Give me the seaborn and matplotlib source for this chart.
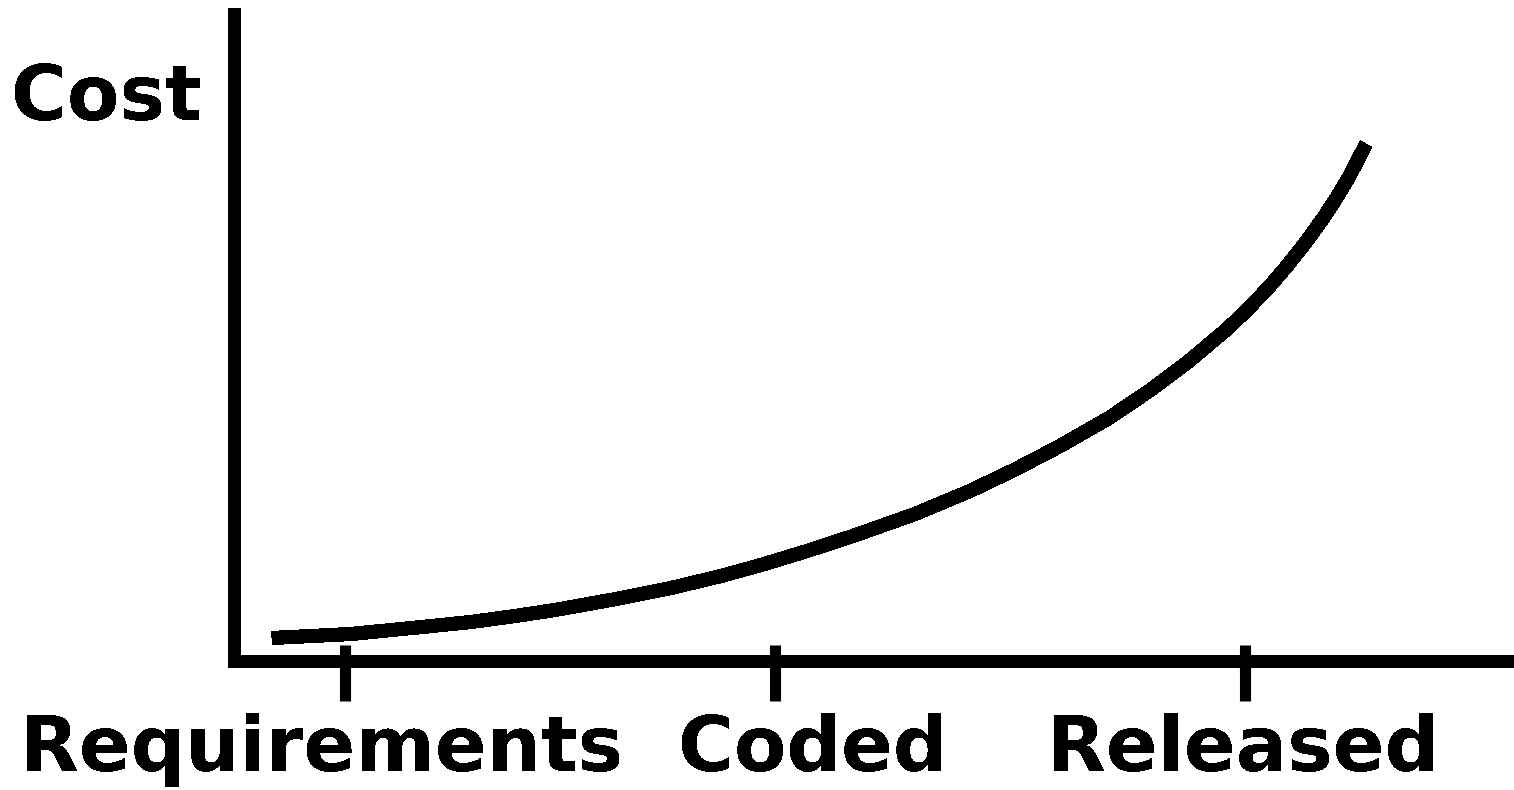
import matplotlib
matplotlib.use("Agg")
import matplotlib.pyplot as plt
from matplotlib.transforms import ScaledTranslation
import pandas as pd
import seaborn as sns

# Project stages marked on the time axis
stage_names = ["Requirements", "Coded", "Released"]
stage_pos = [1.11, 5.41, 10.11]

# Cost of fixing a defect over the project timeline
time = [0.38, 1.17, 1.88, 2.37, 2.81, 3.21, 3.82, 4.37, 4.87, 5.27, 5.73,
        6.19, 6.81, 7.36, 7.82, 8.26, 8.75, 9.18, 9.55, 9.92, 10.13, 10.35,
        10.53, 10.72, 10.90, 11.03, 11.15, 11.32]
cost = [0.23, 0.27, 0.34, 0.39, 0.45, 0.51, 0.62, 0.73, 0.85, 0.96, 1.10,
        1.25, 1.47, 1.70, 1.92, 2.15, 2.43, 2.72, 3.00, 3.31, 3.51, 3.74,
        3.95, 4.19, 4.44, 4.64, 4.84, 5.17]

sns.set_style("white")
plt.rcParams["font.family"] = ["DejaVu Sans"]
plt.rcParams["text.antialiased"] = False

fig = plt.figure(figsize=(15.14, 7.90), dpi=100)
ax = fig.add_axes([0.15456, 0.1633, 0.84544, 0.8196])

df = pd.DataFrame({"time": time, "cost": cost})
sns.lineplot(data=df, x="time", y="cost", ax=ax, color="black",
             linewidth=9.5, sort=False, antialiased=False,
             solid_capstyle="butt")

ax.set_xlim(0, 12.80)
ax.set_ylim(0, 6.475)

for side in ("top", "right"):
    ax.spines[side].set_visible(False)
for side in ("left", "bottom"):
    sp = ax.spines[side]
    sp.set_linewidth(8)
    sp.set_color("black")
    sp.set_capstyle("projecting")
    sp.set_antialiased(False)

# Stage ticks cross the axis: long part below, short part above
ax.xaxis.remove_overlapping_locs = False
ax.set_xticks(stage_pos, labels=stage_names)
ax.set_xticks(stage_pos, minor=True)
ax.tick_params(axis="x", which="both", bottom=True)
ax.tick_params(axis="x", which="major", direction="out", length=28.8,
               width=8, color="black", pad=9, labelsize=55,
               labelcolor="black")
ax.tick_params(axis="x", which="minor", direction="in", length=11.5,
               width=8, color="black")
ax.set_yticks([])
ax.set_xlabel("")

shifts_px = [-23, 38, -2]
for lbl, dx in zip(ax.get_xticklabels(), shifts_px):
    lbl.set_fontweight("bold")
    lbl.set_transform(lbl.get_transform()
                      + ScaledTranslation(dx / 100, 0, fig.dpi_scale_trans))

ax.set_ylabel("Cost", rotation=0, fontsize=55, fontweight="bold",
              color="black", ha="center", va="baseline")
ax.yaxis.set_label_coords(-0.1, 0.8355)

fig.savefig("out.png", dpi=100)
